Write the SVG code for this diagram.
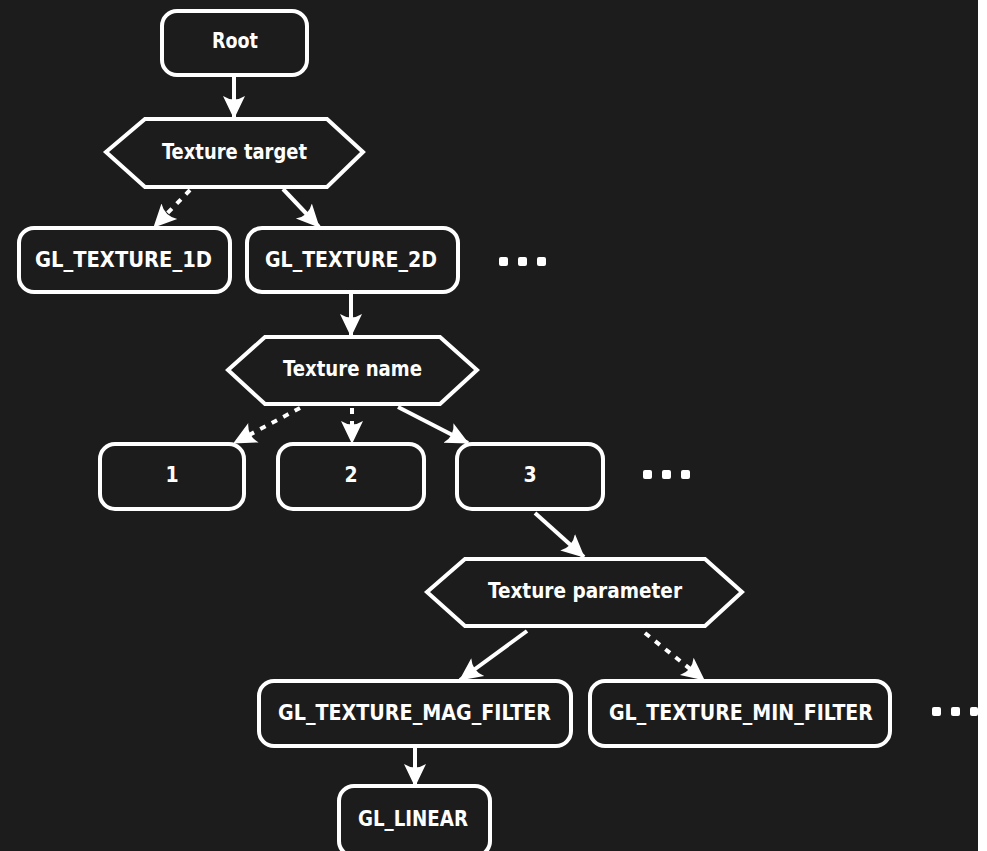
<svg xmlns="http://www.w3.org/2000/svg" width="987" height="851" viewBox="0 0 987 851">
  <style>
    .box { fill: #1c1c1c; stroke: #ffffff; stroke-width: 4; }
    .lbl { fill: #ffffff; font-family: "DejaVu Sans Condensed", "DejaVu Sans", sans-serif; font-stretch: condensed; font-weight: 700; font-size: 21px; text-anchor: middle; dominant-baseline: central; }
    .edge { stroke: #ffffff; stroke-width: 4; fill: none; marker-end: url(#head); }
    .dash { stroke-dasharray: 6 7; }
    .dots { fill: #ffffff; }
  </style>
  <defs>
    <marker id="head" viewBox="0 0 24 24" refX="22" refY="12" markerWidth="24" markerHeight="24" markerUnits="userSpaceOnUse" orient="auto">
      <path d="M0,1 L23,12 L0,23 Q7,12 0,1 Z" fill="#ffffff"/>
    </marker>
  </defs>
  <rect width="987" height="851" fill="#ffffff"/>
  <rect width="978" height="851" fill="#1c1c1c"/>

  <g id="connectors">
    <line class="edge" x1="234" y1="75" x2="234" y2="118"/>
    <line class="edge dash" x1="190" y1="190" x2="154" y2="227"/>
    <line class="edge" x1="283" y1="189" x2="319" y2="227"/>
    <line class="edge" x1="351" y1="292" x2="351" y2="336"/>
    <line class="edge dash" x1="300" y1="408" x2="234" y2="443"/>
    <line class="edge dash" x1="352" y1="408" x2="352" y2="443"/>
    <line class="edge" x1="398" y1="407" x2="468" y2="443"/>
    <line class="edge" x1="535" y1="513" x2="584" y2="557"/>
    <line class="edge" x1="527" y1="631" x2="460" y2="680"/>
    <line class="edge dash" x1="645" y1="633" x2="704" y2="680"/>
    <line class="edge" x1="415" y1="746" x2="415" y2="786"/>
  </g>

  <g id="root">
    <rect class="box" x="162" y="11" width="145" height="64" rx="15"/>
    <text class="lbl" x="235" y="41" textLength="46" lengthAdjust="spacingAndGlyphs">Root</text>
  </g>
  <g id="texture-target">
    <polygon class="box" points="106,152 145,119 327,119 363,152 327,187 145,187"/>
    <text class="lbl" x="234.5" y="152" textLength="145" lengthAdjust="spacingAndGlyphs">Texture target</text>
  </g>
  <g id="gl-texture-1d">
    <rect class="box" x="19" y="228" width="211" height="64" rx="15"/>
    <text class="lbl" x="123.5" y="260" textLength="177" lengthAdjust="spacingAndGlyphs">GL_TEXTURE_1D</text>
  </g>
  <g id="gl-texture-2d">
    <rect class="box" x="247" y="228" width="211" height="64" rx="15"/>
    <text class="lbl" x="351" y="260" textLength="172" lengthAdjust="spacingAndGlyphs">GL_TEXTURE_2D</text>
  </g>
  <g id="more-targets" class="dots">
    <rect x="499" y="257" width="9" height="9" rx="2"/>
    <rect x="518" y="257" width="9" height="9" rx="2"/>
    <rect x="537" y="257" width="9" height="9" rx="2"/>
  </g>
  <g id="texture-name">
    <polygon class="box" points="228,370 265,337 440,337 477,370 440,404 265,404"/>
    <text class="lbl" x="352.5" y="369" textLength="139" lengthAdjust="spacingAndGlyphs">Texture name</text>
  </g>
  <g id="name-1">
    <rect class="box" x="100" y="444" width="144" height="65" rx="15"/>
    <text class="lbl" x="172" y="475">1</text>
  </g>
  <g id="name-2">
    <rect class="box" x="278" y="444" width="146" height="65" rx="15"/>
    <text class="lbl" x="351" y="475">2</text>
  </g>
  <g id="name-3">
    <rect class="box" x="457" y="444" width="146" height="65" rx="15"/>
    <text class="lbl" x="530" y="475">3</text>
  </g>
  <g id="more-names" class="dots">
    <rect x="643" y="470" width="9" height="9" rx="2"/>
    <rect x="662" y="470" width="9" height="9" rx="2"/>
    <rect x="681" y="470" width="9" height="9" rx="2"/>
  </g>
  <g id="texture-parameter">
    <polygon class="box" points="427,592 465,559 705,559 742,592 705,626 465,626"/>
    <text class="lbl" x="585" y="591" textLength="194" lengthAdjust="spacingAndGlyphs">Texture parameter</text>
  </g>
  <g id="mag-filter">
    <rect class="box" x="259" y="681" width="312" height="65" rx="15"/>
    <text class="lbl" x="414.5" y="713" textLength="273" lengthAdjust="spacingAndGlyphs">GL_TEXTURE_MAG_FILTER</text>
  </g>
  <g id="min-filter">
    <rect class="box" x="590" y="681" width="300" height="65" rx="15"/>
    <text class="lbl" x="741" y="713" textLength="264" lengthAdjust="spacingAndGlyphs">GL_TEXTURE_MIN_FILTER</text>
  </g>
  <g id="more-parameters" class="dots">
    <rect x="932" y="707" width="9" height="9" rx="2"/>
    <rect x="951" y="707" width="9" height="9" rx="2"/>
    <rect x="970" y="707" width="8" height="9" rx="2"/>
  </g>
  <g id="gl-linear">
    <rect class="box" x="339" y="786" width="151" height="70" rx="15"/>
    <text class="lbl" x="413" y="819" textLength="110" lengthAdjust="spacingAndGlyphs">GL_LINEAR</text>
  </g>
</svg>
